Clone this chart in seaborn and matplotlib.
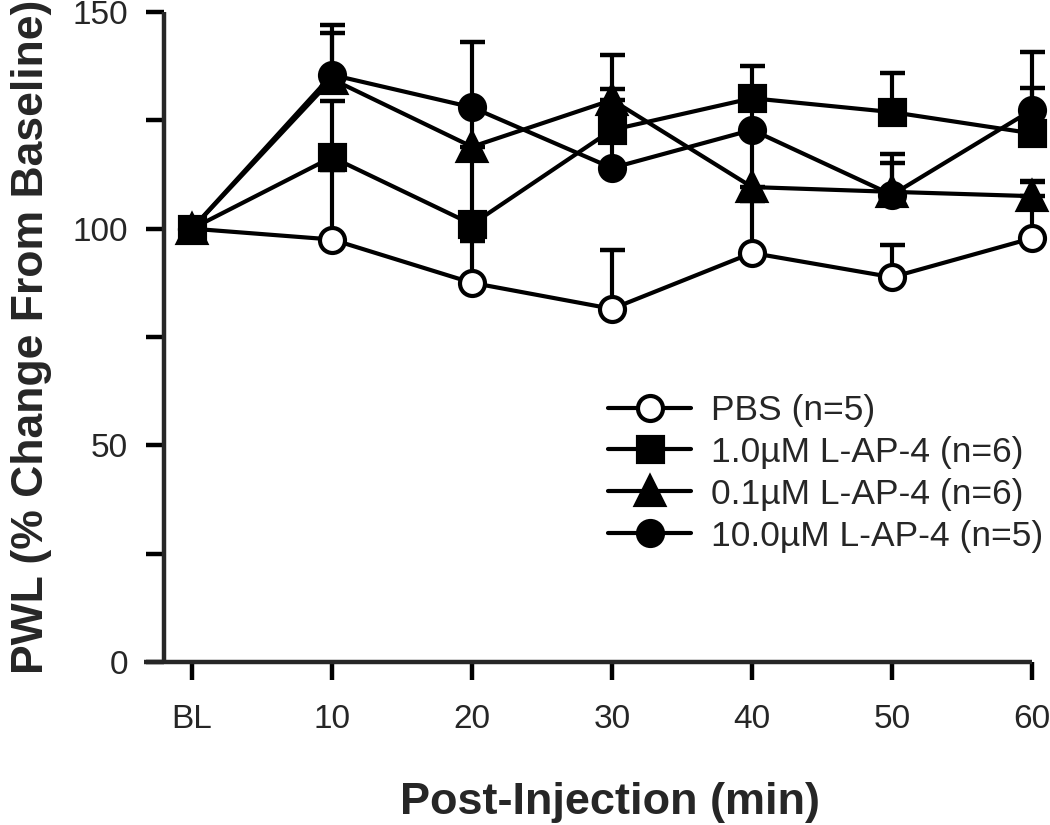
import numpy as np
import pandas as pd
import matplotlib
matplotlib.use("Agg")
import matplotlib.pyplot as plt
import seaborn as sns

# Données (PWL en % de la ligne de base)
times = [0, 10, 20, 30, 40, 50, 60]
tick_labels = ["BL", "10", "20", "30", "40", "50", "60"]

pbs = [100, 97.5, 87.5, 81.5, 94.4, 88.8, 97.8]
pbs_err = [0, 16, 9.7, 13.5, 12, 7.4, 13]

lap_1 = [100, 116.5, 101, 122.8, 130.1, 126.9, 122]
lap_1_err = [0, 13, 15.5, 9.5, 7.4, 9, 10.4]

lap_01 = [100, 134.5, 118.9, 129.7, 109.6, 108.5, 107.5]
lap_01_err = [0, 10.7, 8, 10.3, 12, 6.7, 3.5]

lap_10 = [100, 135.5, 128, 114, 122.8, 107.8, 127.4]
lap_10_err = [0, 11.5, 15, 10, 8, 9.4, 13.4]

groups = ["PBS (n=5)", "1.0µM L-AP-4 (n=6)", "0.1µM L-AP-4 (n=6)", "10.0µM L-AP-4 (n=5)"]
values = [pbs, lap_1, lap_01, lap_10]
errors = [pbs_err, lap_1_err, lap_01_err, lap_10_err]

# style des séries : marqueur, remplissage, ordre d'affichage
styles = [("o", "white", 3), ("s", "black", 6), ("^", "black", 5), ("o", "black", 4)]

sns.set_style("ticks")
plt.rcParams["font.family"] = ["Liberation Sans", "DejaVu Sans"]

fig = plt.figure(figsize=(10.5, 8.25), dpi=100)
ax = fig.add_axes([144 / 1050, (825 - 662) / 825, (1039 - 144) / 1050, (662 - 12) / 825])

for name, vals, err, (mk, fc, z) in zip(groups, values, errors, styles):
    df = pd.DataFrame({"time": times, "pwl": vals, "sem": err})
    bars = df[df["sem"] > 0]
    # barres d'erreur vers le haut seulement (style Prism)
    ax.errorbar(bars["time"], bars["pwl"], yerr=[np.zeros(len(bars)), bars["sem"]],
                fmt="none", ecolor="black", elinewidth=3, capsize=9, capthick=3.2,
                zorder=z - 0.5, clip_on=False)
    sns.lineplot(data=df, x="time", y="pwl", ax=ax, color="black", linewidth=3,
                 marker=mk, markersize=18 if mk != "^" else 20.5, markerfacecolor=fc,
                 markeredgecolor="black", markeredgewidth=3, label=name,
                 zorder=z, clip_on=False)

ax.set_xlim(-3.43, 60.5)
ax.set_ylim(0, 150)
ax.set_xticks(times)
ax.set_xticklabels(tick_labels)
ax.set_yticks([0, 50, 100, 150])
ax.set_yticks([25, 75, 125], minor=True)

for side in ["top", "right"]:
    ax.spines[side].set_visible(False)
ax.spines["left"].set_position(("data", -2))
ax.spines["bottom"].set_bounds(-3.43, 60)
for side in ["left", "bottom"]:
    ax.spines[side].set_linewidth(3.2)
    ax.spines[side].set_capstyle("butt")

ax.tick_params(axis="both", which="both", direction="out", length=13, width=3.2,
               labelsize=24, color="black")
ax.tick_params(axis="y", which="both", pad=13)
ax.tick_params(axis="x", which="major", pad=17)

ax.set_xlabel("Post-Injection (min)", fontsize=32.5, fontweight="bold")
ax.set_ylabel("PWL (% Change From Baseline)", fontsize=32, fontweight="bold")
ax.xaxis.set_label_coords(0.521, -0.185)
ax.yaxis.set_label_coords(-0.103, 0.5)

ax.legend(loc="upper left", bbox_to_anchor=(608 / 1050, 1 - 394 / 825),
          bbox_transform=fig.transFigure, frameon=False, fontsize=25.5,
          handlelength=2.35, handletextpad=0.55, labelspacing=0.25,
          borderpad=0, borderaxespad=0)

fig.savefig("out.png", dpi=100)
